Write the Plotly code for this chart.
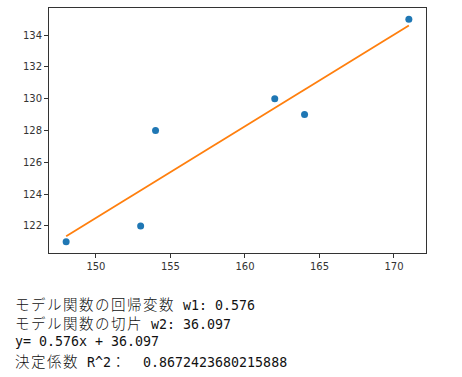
import plotly.graph_objects as go

x_vals = [148, 153, 154, 162, 164, 171]
y_vals = [121, 122, 128, 130, 129, 135]
y_fit = [121.355, 124.235, 124.812, 129.420, 130.572, 134.605]
x_ticks = [150, 155, 160, 165, 170]
y_ticks = [122, 124, 126, 128, 130, 132, 134]
text_lines = [
    "モデル関数の回帰変数 w1: 0.576",
    "モデル関数の切片 w2: 36.097",
    "y= 0.576x + 36.097",
    "決定係数 R^2：  0.8672423680215888",
]


def styled(s):
    out = []
    run = ""
    wide = None
    for ch in s:
        w = ord(ch) > 0x2E80
        if wide is None or w == wide:
            run += ch
        else:
            out.append((wide, run))
            run = ch
        wide = w
    if run:
        out.append((wide, run))
    parts = []
    for w, r in out:
        if w:
            parts.append("<span style=\"font-family:'Noto Sans CJK JP';font-size:14.5px;"
                         "letter-spacing:1.5px;font-weight:300\">" + r + "</span>")
        else:
            parts.append(r.replace(" ", "&nbsp;"))
    return "".join(parts)


fig = go.Figure()
fig.add_trace(go.Scatter(x=x_vals, y=y_vals, mode="markers",
                         marker=dict(color="#1f77b4", size=7, line=dict(width=0)),
                         showlegend=False))
fig.add_trace(go.Scatter(x=x_vals, y=y_fit, mode="lines",
                         line=dict(color="#ff7f0e", width=1.8),
                         showlegend=False))

axis_common = dict(showgrid=False, zeroline=False, showline=True, mirror=True,
                   linecolor="#333333", linewidth=1, ticks="outside", ticklen=4,
                   tickcolor="#333333", tickfont=dict(family="DejaVu Sans", size=10, color="#333333"))
fig.update_xaxes(range=[146.85, 172.15], tickvals=x_ticks, **axis_common)
fig.update_yaxes(range=[120.3, 135.7], tickvals=y_ticks, **axis_common)

for i, t in enumerate(text_lines):
    fig.add_annotation(text=styled(t), xref="paper", yref="paper", x=0, y=0,
                       xanchor="left", yanchor="middle", showarrow=False,
                       xshift=-36, yshift=-(50 + 19 * i),
                       font=dict(family="DejaVu Sans Mono", size=13.3, color="#111111"))

fig.update_layout(width=462, height=377, margin=dict(l=49, r=36, t=8, b=124),
                  plot_bgcolor="white", paper_bgcolor="white")
fig.write_html("out.html")
